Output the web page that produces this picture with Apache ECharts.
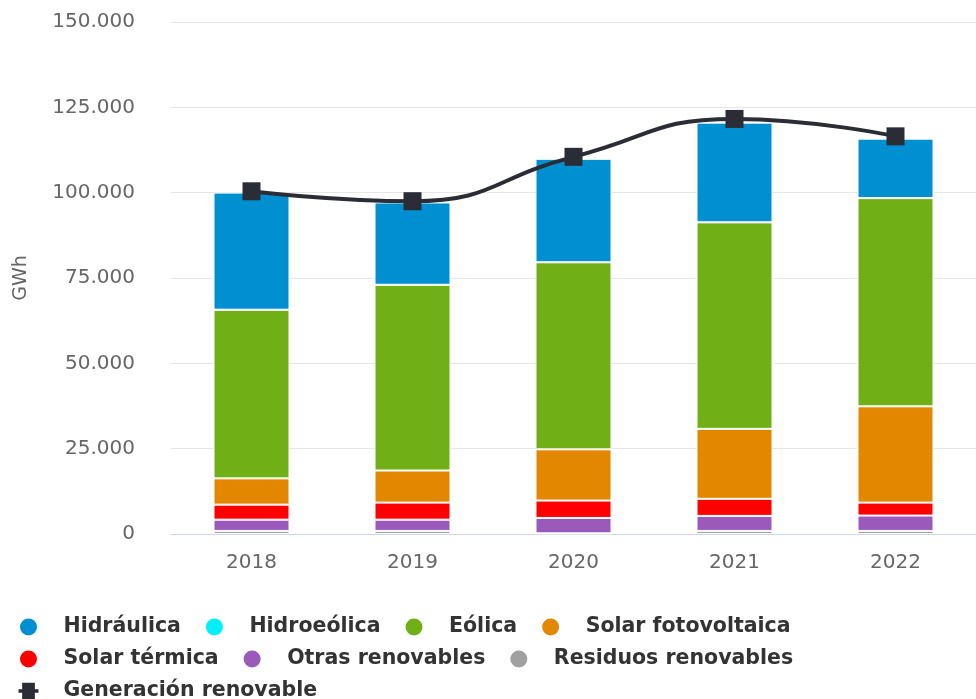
<!DOCTYPE html>
<html>
<head>
<meta charset="utf-8">
<script src="https://cdn.jsdelivr.net/npm/echarts@6/dist/echarts.min.js"></script>
<style>
  html, body { margin: 0; padding: 0; background: #fff; }
  #chart { width: 976px; height: 699px; }
</style>
</head>
<body>
<div id="chart"></div>
<script>
// datos (GWh)
var years = ['2018', '2019', '2020', '2021', '2022'];
var hidraulica = [34300, 24100, 30300, 29200, 17400];
var hidroeolica = [20, 22, 16, 20, 20];
var eolica = [49400, 54400, 54800, 60500, 61000];
var solarFV = [7700, 9400, 15000, 20500, 28200];
var solarTermica = [4400, 5000, 5100, 5000, 3800];
var otrasRenovables = [3300, 3300, 4500, 4400, 4500];
var residuosRenovables = [900, 900, 200, 900, 900];
var generacion = [100400, 97500, 110500, 121600, 116500];
var yTicks = [0, 25000, 50000, 75000, 100000, 125000, 150000];

var font = "'DejaVu Sans', sans-serif";

function miles(v) {
    return String(v).replace(/\B(?=(\d{3})+(?!\d))/g, '.');
}

function barra(name, data, color) {
    return {
        name: name,
        type: 'bar',
        stack: 'total',
        data: data,
        barWidth: 76,
        itemStyle: { color: color, borderColor: '#fff', borderWidth: 1 }
    };
}

var chart = echarts.init(document.getElementById('chart'));

var option = {
    animation: false,
    grid: { left: 171, right: 0, top: 22, bottom: 165 },
    legend: {
        left: 13,
        top: 609,
        width: 860,
        itemWidth: 20,
        itemHeight: 19,
        itemGap: 6,
        textStyle: {
            fontFamily: font, fontSize: 20.5, fontWeight: 'bold', color: '#333',
            lineHeight: 26, padding: [0, 17, 0, 20]
        },
        data: [
            { name: 'Hidráulica', icon: 'circle' },
            { name: 'Hidroeólica', icon: 'circle' },
            { name: 'Eólica', icon: 'circle' },
            { name: 'Solar fotovoltaica', icon: 'circle' },
            { name: 'Solar térmica', icon: 'circle' },
            { name: 'Otras renovables', icon: 'circle' },
            { name: 'Residuos renovables', icon: 'circle' },
            { name: 'Generación renovable', icon: 'path://M0,7h4v-7h14v7h4v4h-4v7h-14v-7h-4z' }
        ]
    },
    xAxis: {
        type: 'category',
        data: years,
        axisLine: { lineStyle: { color: '#ccd6eb' } },
        axisTick: { alignWithLabel: true, length: 10, lineStyle: { color: '#ccd6eb' } },
        axisLabel: { color: '#666', fontFamily: font, fontSize: 20, margin: 19 }
    },
    yAxis: {
        type: 'value',
        min: 0,
        max: yTicks[yTicks.length - 1],
        interval: 25000,
        name: 'GWh',
        nameLocation: 'middle',
        nameGap: 140,
        nameTextStyle: { color: '#666', fontFamily: font, fontSize: 19 },
        axisLine: { show: false },
        axisTick: { show: false },
        splitLine: { lineStyle: { color: '#e6e6e6' } },
        axisLabel: {
            color: '#666', fontFamily: font, fontSize: 20, margin: 36,
            formatter: function (v) { return miles(v); }
        }
    },
    series: [
        barra('Residuos renovables', residuosRenovables, '#a0a0a0'),
        barra('Otras renovables', otrasRenovables, '#9b59bb'),
        barra('Solar térmica', solarTermica, '#ff0000'),
        barra('Solar fotovoltaica', solarFV, '#e38600'),
        barra('Eólica', eolica, '#70b016'),
        barra('Hidroeólica', hidroeolica, '#00f0f8'),
        barra('Hidráulica', hidraulica, '#008fd1'),
        {
            name: 'Generación renovable',
            type: 'line',
            data: generacion,
            smooth: true,
            symbol: 'rect',
            symbolSize: 18,
            z: 5,
            lineStyle: { color: '#2b2d36', width: 4 },
            itemStyle: { color: '#2b2d36' }
        }
    ]
};

chart.setOption(option);
</script>
</body>
</html>
